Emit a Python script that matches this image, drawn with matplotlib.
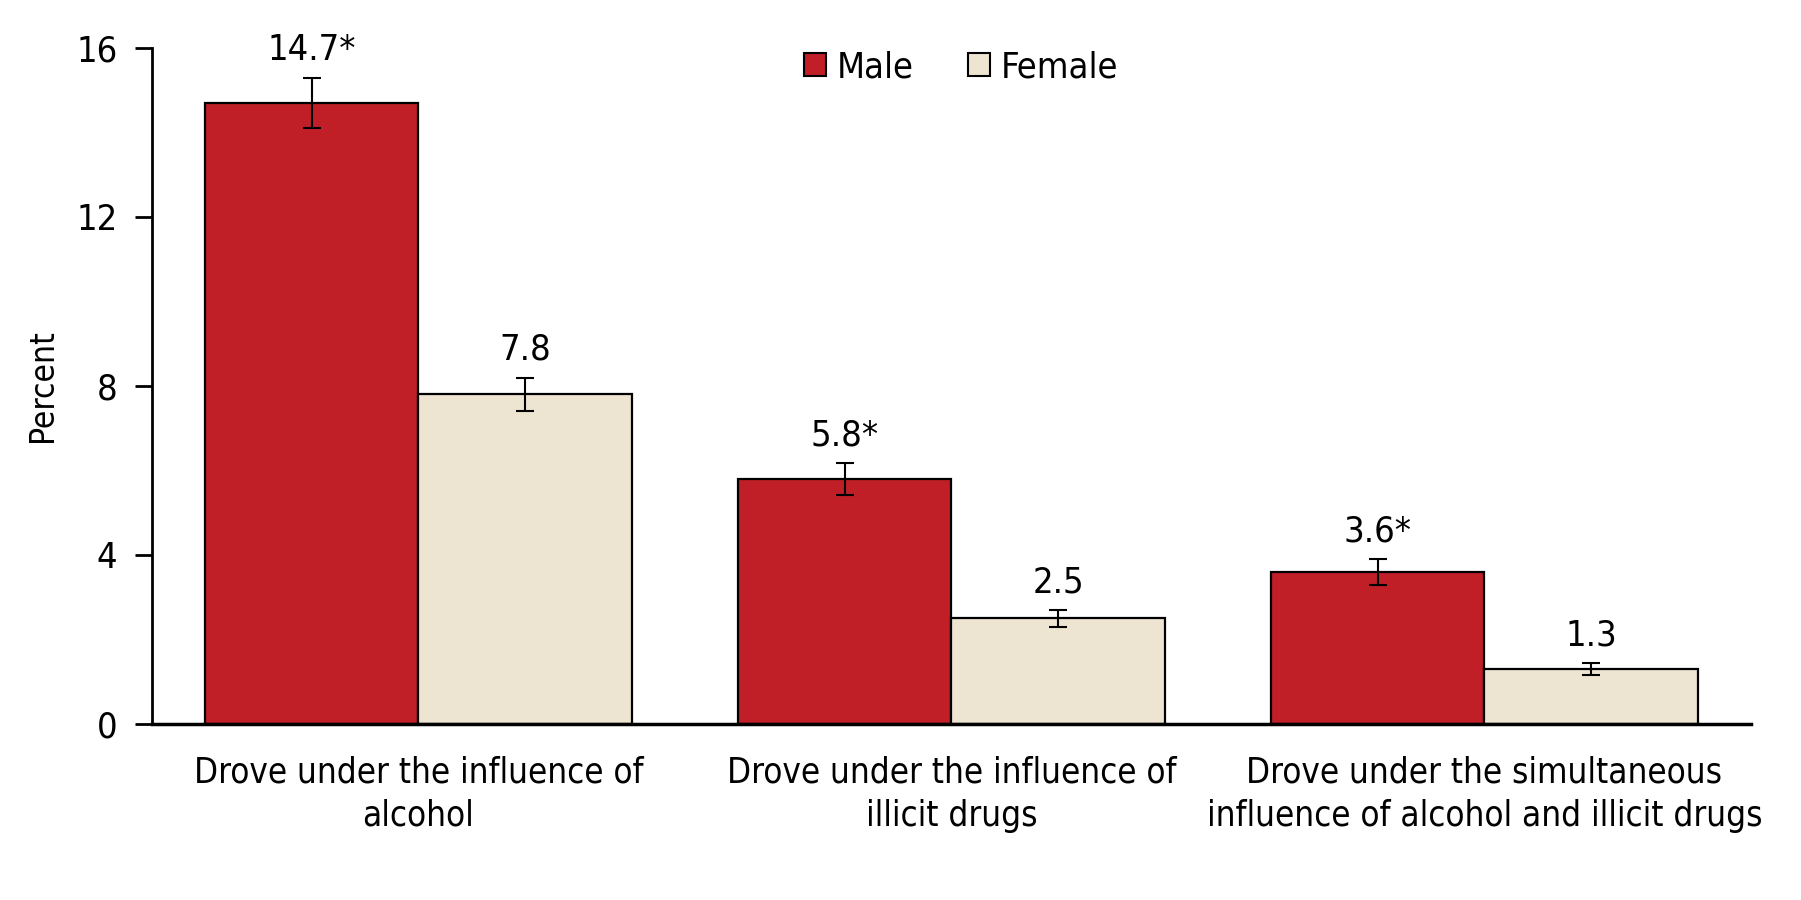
import numpy as np
import matplotlib.pyplot as plt
from matplotlib.patches import Patch

plt.rcParams['font.family'] = ['DejaVu Sans']
plt.rcParams['font.stretch'] = 'condensed'

categories = ['Drove under the influence of\nalcohol',
              'Drove under the influence of\nillicit drugs',
              'Drove under the simultaneous\ninfluence of alcohol and illicit drugs']
male = [14.7, 5.8, 3.6]
female = [7.8, 2.5, 1.3]
male_err = [0.6, 0.38, 0.3]
female_err = [0.4, 0.2, 0.15]
male_labels = ['14.7*', '5.8*', '3.6*']
female_labels = ['7.8', '2.5', '1.3']

male_color = '#C01F27'
female_color = '#EDE5D1'

fig = plt.figure(figsize=(18.01, 9), dpi=100)
ax = fig.add_axes([0.0844, 0.1956, 0.8878, 0.7511])

x = np.arange(len(categories))
w = 0.4
ekw = dict(ecolor='black', elinewidth=1.5, capsize=6.5, capthick=1.5)
ax.bar(x - w/2, male, w, color=male_color, edgecolor='black', linewidth=1.6,
       yerr=male_err, error_kw=ekw)
ax.bar(x + w/2, female, w, color=female_color, edgecolor='black', linewidth=1.6,
       yerr=female_err, error_kw=ekw)

for i in range(len(categories)):
    ax.text(x[i] - w/2, male[i] + male_err[i] + 0.25, male_labels[i],
            ha='center', va='bottom', fontsize=26)
    ax.text(x[i] + w/2, female[i] + female_err[i] + 0.25, female_labels[i],
            ha='center', va='bottom', fontsize=26)

ax.set_xlim(-0.5, 2.5)
ax.set_ylim(0, 16)
ax.set_yticks([0, 4, 8, 12, 16])
ax.tick_params(axis='y', labelsize=26, length=12, width=2, direction='out', pad=13)
ax.set_xticks(x)
ax.set_xticklabels(categories, fontsize=25, linespacing=1.32)
ax.tick_params(axis='x', length=0, pad=23)
ax.set_ylabel('Percent', fontsize=24, labelpad=12)

for s in ['top', 'right']:
    ax.spines[s].set_visible(False)
ax.spines['left'].set_linewidth(2)
ax.spines['bottom'].set_linewidth(2.5)

handles = [Patch(facecolor=male_color, edgecolor='black', linewidth=1.5, label='Male'),
           Patch(facecolor=female_color, edgecolor='black', linewidth=1.5, label='Female')]
ax.legend(handles=handles, loc='upper center', bbox_to_anchor=(0.506, 1.045), ncol=2,
          frameon=False, fontsize=26, handlelength=0.6, handleheight=0.6,
          handletextpad=0.3, columnspacing=1.5)

fig.savefig('out.png', dpi=100)
